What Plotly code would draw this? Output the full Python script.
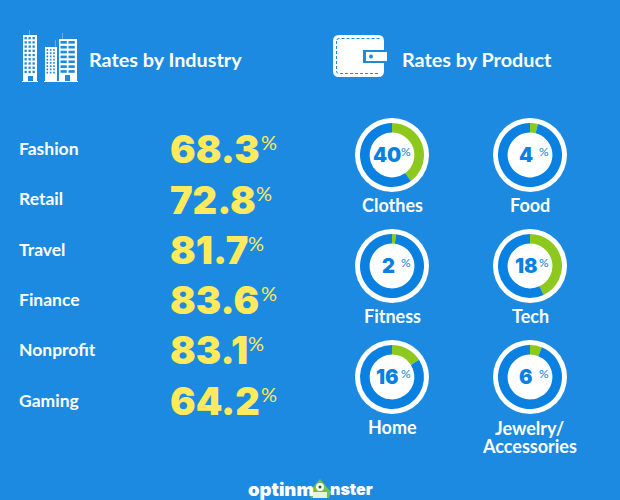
import plotly.graph_objects as go

W, H = 620, 500
BG = "#1c8ae0"
YELLOW = "#ffe95c"
RING = "#0a80e0"
GREEN = "#8cc81e"
WHITE = "#ffffff"
FONT = "Lato"
NUM_FONT = "Inter"

industries = ["Fashion", "Retail", "Travel", "Finance", "Nonprofit", "Gaming"]
industry_rates = [68.3, 72.8, 81.7, 83.6, 83.1, 64.2]
products = ["Clothes", "Food", "Fitness", "Tech", "Home", "Jewelry/<br>Accessories"]
product_rates = [40, 4, 2, 18, 16, 6]
# share of each ring drawn green (differs from the label for Tech)
product_arc_shares = [40, 4, 2, 43, 16, 6]

# layout positions (pixels)
row_y = [148, 198, 249, 299, 349, 400]
value_y = [149, 199.5, 249.5, 299.5, 350, 401]
pct_x = [261, 256, 248, 261, 248, 261]
number_dx = [-5, -4.5, -4, -4, -5, -4.5]
centers = [(392, 155), (530, 155), (392, 266), (530, 266), (392, 377), (530, 377)]

fig = go.Figure()
shapes = []
ann = []


def rect(x0, y0, x1, y1, color=WHITE):
    shapes.append(dict(type="rect", xref="x", yref="y", x0=x0, y0=y0, x1=x1, y1=y1,
                       fillcolor=color, line_width=0, layer="below"))


def text(x, y, s, size, color=WHITE, anchor="left", font=FONT, weight=700):
    if anchor == "left":
        x -= 2  # annotation box padding
    ann.append(dict(x=x, y=y, xref="x", yref="y", text=s, showarrow=False, xanchor=anchor,
                    yanchor="middle", align="center",
                    font=dict(family=font, size=size, color=color, weight=weight)))


# buildings icon
for x0, y0, x1, cols, rows in [(23, 35, 37, 3, 9), (45, 47, 57, 3, 8), (59, 39, 77, 2, 7)]:
    rect(x0, y0, x1, 81)
    cw = (x1 - x0 - 2) / cols
    rh = (81 - y0 - 8) / rows
    for c in range(cols):
        for r in range(rows):
            rect(x0 + 1.5 + c * cw, y0 + 2 + r * rh, x0 + c * cw + cw - 0.2, y0 + 2 + r * rh + rh * 0.55, BG)
rect(22, 81, 38, 82)
rect(44, 81, 78, 82)
rect(28, 76, 33, 81, BG)
rect(65, 75, 70, 81, BG)
rect(29.5, 30, 30, 35, "#a8d2f2")
rect(55, 40, 55.5, 47, "#a8d2f2")
rect(62, 33, 62.5, 39, "#a8d2f2")

# wallet icon
shapes.append(dict(type="path", xref="x", yref="y", layer="below", fillcolor=WHITE, line_width=0,
                   path="M 339 35 L 378 35 Q 384 35 384 41 L 384 71 Q 384 77 378 77 L 339 77 "
                        "Q 333 77 333 71 L 333 41 Q 333 35 339 35 Z"))
shapes.append(dict(type="path", xref="x", yref="y", layer="below", line=dict(color=BG, width=1, dash="3px,2px"),
                   path="M 337 40 Q 337 38.5 339 38.5 L 380 38.5 M 336.5 41 L 336.5 71 Q 336.5 73.5 339 73.5 L 380 73.5"))
rect(363, 50, 388, 63, BG)
rect(366, 52, 387, 61, WHITE)
shapes.append(dict(type="circle", xref="x", yref="y", layer="below", x0=369, y0=54.5, x1=373, y1=58.5,
                   fillcolor=BG, line_width=0))

text(89, 59, "Rates by Industry", 19.8)
text(402, 59, "Rates by Product", 19.8)

for name, y in zip(industries, row_y):
    text(19, y, name, 17.5)
for rate, y, px in zip(industry_rates, value_y, pct_x):
    text(170, y, f"{rate:.1f}", 38, YELLOW, font=NUM_FONT, weight=900)
    text(px, y - 7, "%", 20, YELLOW, font=FONT, weight=400)

# donuts
for name, rate, arc, dx, (cx, cy) in zip(products, product_rates, product_arc_shares, number_dx, centers):
    R_out, R_ring = 37, 32
    shapes.append(dict(type="circle", xref="x", yref="y", layer="below", x0=cx - R_out, y0=cy - R_out,
                       x1=cx + R_out, y1=cy + R_out, fillcolor=WHITE, line_width=0))
    fig.add_trace(go.Pie(values=[arc, 100 - arc], hole=0.70, sort=False, direction="clockwise", rotation=0,
                         marker=dict(colors=[GREEN, RING], line_width=0), textinfo="none", showlegend=False,
                         hoverinfo="skip",
                         domain=dict(x=[(cx - R_ring) / W, (cx + R_ring) / W],
                                     y=[1 - (cy + R_ring) / H, 1 - (cy - R_ring) / H])))
    text(cx + dx, cy, str(rate), 20, RING, "center", NUM_FONT, 900)
    text(cx + 13.5, cy - 3.5, "%", 12, RING, "center", FONT, 400)
    lines = name.split("<br>")
    if len(lines) == 1:
        text(cx, cy + 50, lines[0], 18, WHITE, "center")
    else:
        text(cx - 1, cy + 51, lines[0], 18, WHITE, "center")
        text(cx - 1, cy + 69, lines[1], 18, WHITE, "center")

# logo
text(248, 489, "optinm", 18.5, WHITE, "left", NUM_FONT, 900)
text(330, 489, "nster", 16, WHITE, "left", NUM_FONT, 900)
shapes.append(dict(type="path", xref="x", yref="y", layer="above", fillcolor="#72bf44", line_width=0,
                   path="M 320 479 L 331 492 L 329 498 L 311 498 L 309 492 Z"))
shapes.append(dict(type="circle", xref="x", yref="y", layer="above", x0=316, y0=483, x1=324, y1=491,
                   fillcolor=WHITE, line_width=0))
shapes.append(dict(type="circle", xref="x", yref="y", layer="above", x0=318.5, y0=485.5, x1=321.5, y1=488.5,
                   fillcolor="#1f5f3a", line_width=0))
shapes.append(dict(type="rect", xref="x", yref="y", layer="above", x0=313, y0=492, x1=327, y1=498,
                   fillcolor="#e8f2dc", line_width=0))

fig.update_layout(
    width=W, height=H, margin=dict(l=0, r=0, t=0, b=0), paper_bgcolor=BG, plot_bgcolor=BG, showlegend=False,
    xaxis=dict(range=[0, W], visible=False, fixedrange=True),
    yaxis=dict(range=[H, 0], visible=False, fixedrange=True),
    shapes=shapes, annotations=ann,
)
fig.add_trace(go.Scatter(x=[0], y=[0], mode="markers", marker=dict(opacity=0), hoverinfo="skip", showlegend=False))
fig.write_html("out.html", config=dict(displayModeBar=False),
               post_script="document.body.style.margin='0';document.body.style.overflow='hidden';document.body.style.background='%s';" % BG)
